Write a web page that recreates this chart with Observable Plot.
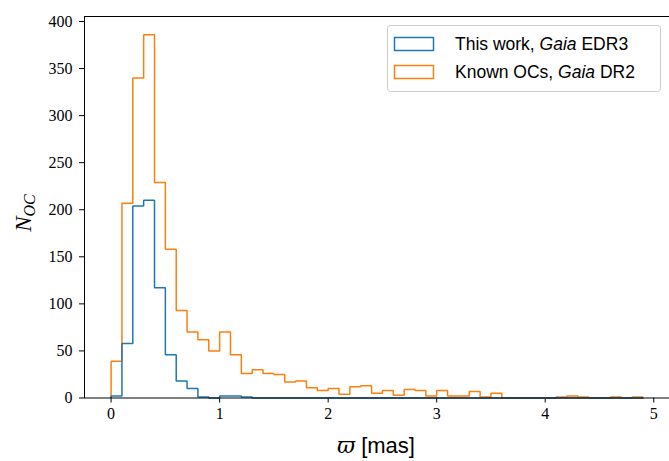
<!DOCTYPE html>
<html>
<head>
<meta charset="utf-8">
<script src="https://cdn.jsdelivr.net/npm/d3@7"></script>
<script src="https://cdn.jsdelivr.net/npm/@observablehq/plot@0.6"></script>
<style>
  html, body { margin: 0; padding: 0; background: #fff; }
  #chart { position: relative; width: 669px; height: 461px; overflow: hidden; }
</style>
</head>
<body>
<div id="chart"></div>
<script>
// Histogram bin edges (width 0.1 mas), starting at 0
const binStart = 0;
const binWidth = 0.1;
// Counts per bin
const thisWork = [2, 58, 204, 210, 117, 46, 18, 10, 1, 0,
                  2, 2, 1, 0, 0, 0, 0, 0, 0, 0,
                  0, 0, 0, 0, 0, 0, 0, 0, 0, 0,
                  0, 0, 0, 0, 0, 0, 0, 0, 0, 0,
                  0, 0, 0, 0, 0, 0, 0, 0, 0];
const knownOCs = [39, 207, 340, 386, 229, 158, 93, 70, 62, 50,
                  70, 46, 26, 30, 26, 25, 17, 18, 11, 8,
                  10, 4, 12, 13, 5, 8, 3, 9, 8, 2,
                  8, 2, 2, 7, 1, 5, 0, 0, 0, 0,
                  0, 1, 2, 1, 0, 0, 1, 0, 1];
const seriesNames = ["This work, Gaia EDR3", "Known OCs, Gaia DR2"];
const seriesColors = ["#1f77b4", "#ff7f0e"];
const xTicks = [0, 1, 2, 3, 4, 5];
const yTicks = [0, 50, 100, 150, 200, 250, 300, 350, 400];

// Build step outlines as matplotlib histtype='step'
function stepPoints(counts, name) {
  const pts = [{x: binStart, y: 0, s: name}];
  counts.forEach((c, i) => pts.push({x: +(binStart + i * binWidth).toFixed(3), y: c, s: name}));
  pts.push({x: +(binStart + counts.length * binWidth).toFixed(3), y: 0, s: name});
  return pts;
}
const lineA = stepPoints(thisWork, seriesNames[0]);
const lineB = stepPoints(knownOCs, seriesNames[1]);
const xMax = binStart + knownOCs.length * binWidth;
const xPad = (xMax - binStart) * 0.05;
const yPad = d3.max(knownOCs) * 1.05;

const W = 669, H = 461;
const plot = Plot.plot({
  width: W,
  height: H,
  marginLeft: 84,
  marginRight: 0,
  marginTop: 16,
  marginBottom: 63.5,
  style: {fontFamily: "'Liberation Serif', 'DejaVu Serif', serif", fontSize: "16px", background: "#fff", color: "#000"},
  x: {domain: [binStart - xPad, xMax + xPad], ticks: xTicks, tickSize: 5, tickPadding: 5, tickFormat: d => String(d), label: null},
  y: {domain: [0, yPad], ticks: yTicks, tickSize: 5, tickPadding: 7, tickFormat: d => String(d), label: null},
  marks: [
    Plot.line(lineB, {x: "x", y: "y", curve: "step-after", stroke: seriesColors[1], strokeWidth: 1.5, strokeLinejoin: "miter"}),
    Plot.line(lineA, {x: "x", y: "y", curve: "step-after", stroke: seriesColors[0], strokeWidth: 1.5, strokeLinejoin: "miter"}),
    Plot.frame({stroke: "#000", strokeWidth: 1})
  ]
});
document.getElementById("chart").appendChild(plot);

const svg = d3.select(plot);
// X axis label
const xl = svg.append("text")
  .attr("x", 376).attr("y", 453)
  .attr("text-anchor", "middle")
  .attr("font-size", 22);
xl.append("tspan").attr("font-family", "'DejaVu Serif', serif").attr("font-style", "italic").text("ϖ");
xl.append("tspan").attr("font-family", "'Liberation Sans', sans-serif").text(" [mas]");

// Y axis label
const yl = svg.append("text")
  .attr("transform", "translate(31,213) rotate(-90)")
  .attr("text-anchor", "middle")
  .attr("font-family", "'Liberation Serif', serif")
  .attr("font-style", "italic")
  .attr("font-size", 23);
yl.append("tspan").text("N");
yl.append("tspan").attr("dy", 4).attr("font-size", 16).text("OC");

// Legend
const lg = svg.append("g")
  .attr("font-family", "'Liberation Sans', 'DejaVu Sans', sans-serif")
  .attr("font-size", 17.5)
  .attr("text-anchor", "start");
lg.append("rect").attr("x", 387.5).attr("y", 25.5).attr("width", 273).attr("height", 66)
  .attr("rx", 3).attr("fill", "#fff").attr("fill-opacity", 0.8).attr("stroke", "#ccc");
seriesNames.forEach((name, i) => {
  const yy = 37.5 + i * 28;
  lg.append("rect").attr("x", 394.5).attr("y", yy).attr("width", 39).attr("height", 13)
    .attr("fill", "none").attr("stroke", seriesColors[i]).attr("stroke-width", 1.5);
  const t = lg.append("text").attr("x", 455).attr("y", yy + 12.5).attr("text-anchor", "start");
  const parts = name.split("Gaia");
  t.append("tspan").text(parts[0]);
  t.append("tspan").attr("font-style", "italic").text("Gaia");
  t.append("tspan").text(parts[1]);
});
</script>
</body>
</html>
